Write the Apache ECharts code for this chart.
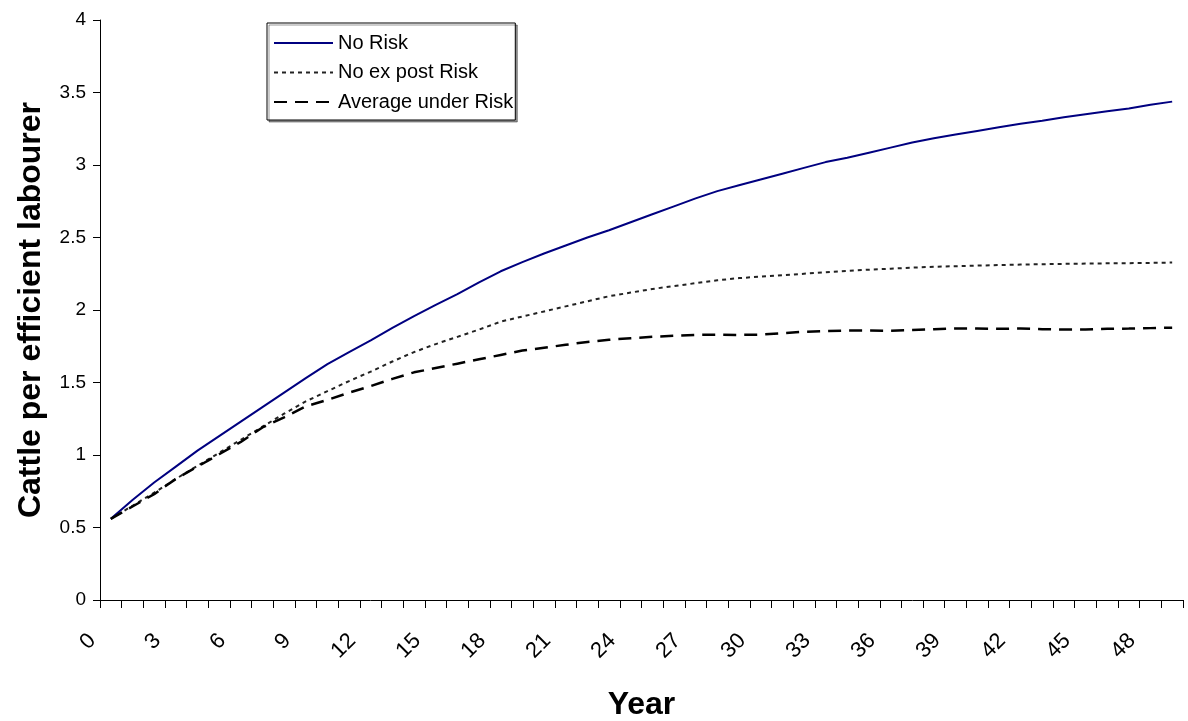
<!DOCTYPE html>
<html>
<head>
<meta charset="utf-8">
<script src="https://cdn.jsdelivr.net/npm/echarts@6/dist/echarts.min.js"></script>
<style>
html,body{margin:0;padding:0;background:#fff;}
#chart{width:1188px;height:721px;}
</style>
</head>
<body>
<div id="chart"></div>
<script>
var years = [];
for (var k = 0; k < 50; k++) years.push(String(k));

var noRisk = [0.56,0.69,0.81,0.92,1.03,1.13,1.23,1.33,1.43,1.53,1.627,1.71,1.79,1.876,1.958,2.035,2.11,2.19,2.267,2.33,2.39,2.445,2.50,2.55,2.605,2.66,2.715,2.77,2.82,2.86,2.90,2.94,2.98,3.02,3.05,3.085,3.12,3.155,3.185,3.21,3.235,3.26,3.285,3.305,3.33,3.35,3.37,3.39,3.415,3.437];

var noExPostRisk = [0.56,0.65,0.74,0.835,0.925,1.015,1.105,1.195,1.285,1.37,1.44,1.51,1.575,1.645,1.71,1.765,1.815,1.865,1.92,1.955,1.99,2.025,2.06,2.095,2.12,2.145,2.165,2.185,2.205,2.22,2.23,2.24,2.25,2.26,2.27,2.278,2.285,2.292,2.298,2.302,2.306,2.31,2.313,2.316,2.318,2.32,2.322,2.323,2.325,2.327];

var averageUnderRisk = [0.56,0.645,0.73,0.835,0.92,1.005,1.09,1.19,1.26,1.335,1.38,1.43,1.475,1.525,1.57,1.60,1.63,1.66,1.69,1.72,1.74,1.76,1.78,1.795,1.805,1.815,1.822,1.828,1.83,1.828,1.83,1.84,1.85,1.855,1.858,1.858,1.857,1.862,1.868,1.872,1.872,1.87,1.872,1.868,1.865,1.866,1.87,1.872,1.875,1.878];

var seriesNames = ['No Risk', 'No ex post Risk', 'Average under Risk'];
var xTitle = 'Year';
var yTitle = 'Cattle per efficient labourer';

var FONT = '"Liberation Sans", Arial, sans-serif';
var chart = echarts.init(document.getElementById('chart'), null, {renderer: 'canvas'});
chart.setOption({
  animation: false,
  backgroundColor: '#ffffff',
  textStyle: {fontFamily: FONT},
  grid: {left: 100, right: 5, top: 20, bottom: 121, containLabel: false, outerBoundsMode: 'none'},
  legend: {
    orient: 'vertical',
    left: 267, top: 23,
    padding: [10, 2, 8, 6],
    itemWidth: 59, itemHeight: 16, itemGap: 9.5,
    backgroundColor: '#ffffff',
    borderColor: '#000000', borderWidth: 1,
    shadowColor: 'rgba(0,0,0,0.4)', shadowOffsetX: 2, shadowOffsetY: 2, shadowBlur: 0,
    itemStyle: {opacity: 0},
    textStyle: {fontSize: 20, color: '#000', fontFamily: FONT},
    data: seriesNames
  },
  xAxis: {
    type: 'category',
    data: years,
    boundaryGap: true,
    name: xTitle,
    nameLocation: 'middle',
    nameGap: 89,
    nameTextStyle: {fontSize: 32, fontWeight: 'bold', color: '#000', fontFamily: FONT},
    axisLine: {lineStyle: {color: '#000', width: 1}},
    axisTick: {show: true, interval: 0, length: 8, inside: false, lineStyle: {color: '#000'}},
    axisLabel: {interval: 2, rotate: 45, fontSize: 22, color: '#000', margin: 19, padding: [0, 26, 0, 0], fontFamily: FONT},
    splitLine: {show: false}
  },
  yAxis: {
    type: 'value',
    min: 0, max: 4, interval: 0.5,
    name: yTitle,
    nameLocation: 'middle',
    nameGap: 53,
    nameRotate: 90,
    nameTextStyle: {fontSize: 32, fontWeight: 'bold', color: '#000', fontFamily: FONT},
    axisLine: {show: true, lineStyle: {color: '#000', width: 1}},
    axisTick: {show: true, length: 7, lineStyle: {color: '#000'}},
    axisLabel: {fontSize: 19, color: '#000', margin: 14, fontFamily: FONT},
    splitLine: {show: false}
  },
  series: [
    {name: seriesNames[0], type: 'line', data: noRisk, symbol: 'none', smooth: false,
     itemStyle: {color: '#000080'},
     lineStyle: {color: '#000080', width: 2, type: 'solid'}},
    {name: seriesNames[1], type: 'line', data: noExPostRisk, symbol: 'none', smooth: false,
     itemStyle: {color: '#222222'},
     lineStyle: {color: '#222222', width: 2, type: [4, 4]}},
    {name: seriesNames[2], type: 'line', data: averageUnderRisk, symbol: 'none', smooth: false,
     itemStyle: {color: '#000000'},
     lineStyle: {color: '#000000', width: 2.5, type: [13, 8]}}
  ]
});
</script>
</body>
</html>
